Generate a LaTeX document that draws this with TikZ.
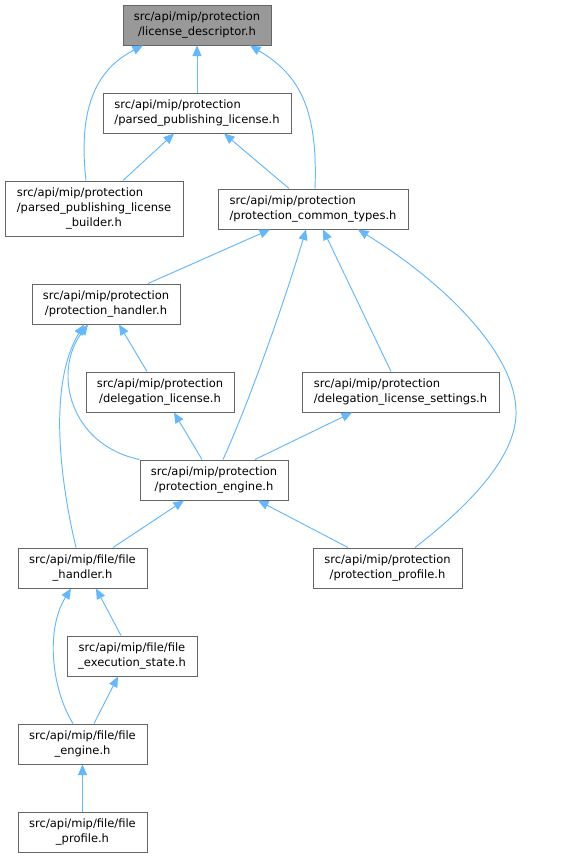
\documentclass[tikz,border=0pt]{standalone}
\usepackage{fontspec}
\setmainfont{DejaVu Sans}
\usetikzlibrary{arrows.meta}
\definecolor{edgec}{HTML}{63B8FF}
\definecolor{boxc}{HTML}{666666}
\definecolor{rootc}{HTML}{999999}
\begin{document}
\begin{tikzpicture}[x=1pt,y=-1pt,
  box/.style={draw=boxc, line width=1pt, fill=white, inner sep=0pt, minimum height=40pt, align=center, font=\fontsize{11.5}{15}\selectfont},
  edge/.style={draw=edgec, line width=0.95pt, {Triangle[length=10.5pt,width=9pt]}-}]
\useasboundingbox (0,0) rectangle (579,857);
\node[box, fill=rootc, minimum width=148pt] (LD) at (197,25) {src/api/mip/protection\\/license\_descriptor.h};
\node[box, align=left, minimum width=188pt] (PPL) at (197,113) {src/api/mip/protection\\/parsed\_publishing\_license.h};
\node[box, minimum width=178pt, minimum height=55pt] (PPLB) at (94,208.5) {\rlap{src/api/mip/protection}\phantom{/parsed\_publishing\_license}\\/parsed\_publishing\_license\\\_builder.h};
\node[box, align=left, minimum width=190pt] (PCT) at (313,209) {src/api/mip/protection\\/protection\_common\_types.h};
\node[box, minimum width=148pt] (PH) at (106,304) {src/api/mip/protection\\/protection\_handler.h};
\node[box, minimum width=148pt] (DL) at (160,392) {src/api/mip/protection\\/delegation\_license.h};
\node[box, align=left, minimum width=197pt] (DLS) at (400.5,392) {src/api/mip/protection\\/delegation\_license\_settings.h};
\node[box, minimum width=148pt] (PE) at (214,480) {src/api/mip/protection\\/protection\_engine.h};
\node[box, minimum width=129pt] (FH) at (82.5,568) {src/api/mip/file/file\\\_handler.h};
\node[box, minimum width=149pt] (PP) at (387.5,568) {src/api/mip/protection\\/protection\_profile.h};
\node[box, minimum width=130pt] (FES) at (132,656) {src/api/mip/file/file\\\_execution\_state.h};
\node[box, minimum width=129pt] (FE) at (82.5,744) {src/api/mip/file/file\\\_engine.h};
\node[box, minimum width=129pt] (FP) at (82.5,832) {src/api/mip/file/file\\\_profile.h};

\draw[edge] (LD.south) -- (PPL.north);
\draw[edge] ([xshift=-54pt]LD.south) .. controls (95,70) and (78,110) .. ([xshift=-8pt]PPLB.north);
\draw[edge] ([xshift=53pt]LD.south) .. controls (300,75) and (318,110) .. ([xshift=2pt]PCT.north);
\draw[edge] ([xshift=-23pt]PPL.south) -- ([xshift=29pt]PPLB.north);
\draw[edge] ([xshift=27pt]PPL.south) -- ([xshift=-24pt]PCT.north);
\draw[edge] ([xshift=-43pt]PCT.south) -- ([xshift=42pt]PH.north);
\draw[edge] ([xshift=-7pt]PCT.south) .. controls (285,300) and (250,400) .. ([xshift=9pt]PE.north);
\draw[edge] ([xshift=10pt]PCT.south) -- ([xshift=-9.5pt]DLS.north);
\draw[edge] ([xshift=45pt]PCT.south) .. controls (440,280) and (514,350) .. (516,410) .. controls (518,455) and (470,505) .. ([xshift=27.5pt]PP.north);
\draw[edge] ([xshift=13pt]PH.south) -- ([xshift=-13pt]DL.north);
\draw[edge] ([xshift=-18pt]PH.south) .. controls (52,372) and (70,445) .. (PE.north west);
\draw[edge] ([xshift=-22pt]PH.south) .. controls (48,385) and (60,480) .. ([xshift=-6.5pt]FH.north);
\draw[edge] ([xshift=14pt]DL.south) -- ([xshift=-12pt]PE.north);
\draw[edge] ([xshift=-48.5pt]DLS.south) -- ([xshift=41pt]PE.north);
\draw[edge] ([xshift=-30pt]PE.south) -- ([xshift=30.5pt]FH.north);
\draw[edge] ([xshift=44pt]PE.south) -- ([xshift=-39.5pt]PP.north);
\draw[edge] ([xshift=13.5pt]FH.south) -- ([xshift=-11pt]FES.north);
\draw[edge] ([xshift=-11.5pt]FH.south) .. controls (45,630) and (52,690) .. ([xshift=-9.5pt]FE.north);
\draw[edge] ([xshift=-14pt]FES.south) -- ([xshift=11.5pt]FE.north);
\draw[edge] (FE.south) -- (FP.north);
\end{tikzpicture}
\end{document}
